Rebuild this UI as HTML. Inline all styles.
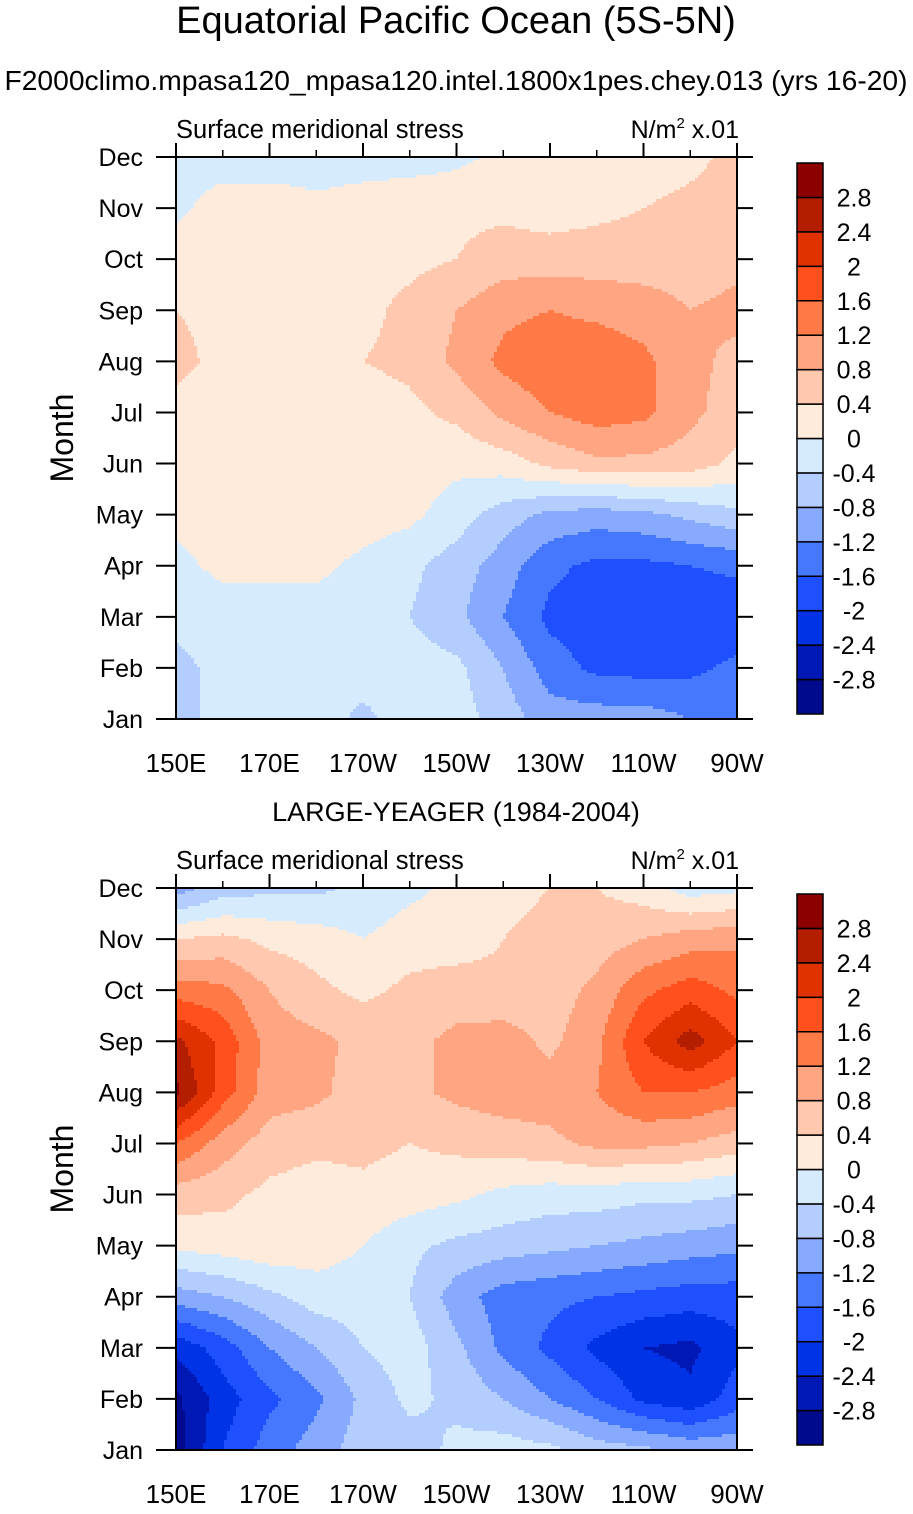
<!DOCTYPE html>
<html><head><meta charset="utf-8">
<style>
body{margin:0;background:#fff;width:913px;height:1509px;overflow:hidden;font-family:"Liberation Sans",sans-serif;}
svg text{font-family:"Liberation Sans",sans-serif;fill:#000;}
</style></head>
<body>
<svg id="fig" width="913" height="1509" xmlns="http://www.w3.org/2000/svg">
<text x="456" y="33" font-size="38" text-anchor="middle">Equatorial Pacific Ocean (5S-5N)</text>
<text x="456" y="90" font-size="28" text-anchor="middle" textLength="903" lengthAdjust="spacingAndGlyphs">F2000climo.mpasa120_mpasa120.intel.1800x1pes.chey.013 (yrs 16-20)</text>
<text x="456" y="821" font-size="27" text-anchor="middle">LARGE-YEAGER (1984-2004)</text>
<g id="p0"></g>
<g id="p1"></g>
</svg>
<script>
const months=["Jan","Feb","Mar","Apr","May","Jun","Jul","Aug","Sep","Oct","Nov","Dec"];
const lons=[150,160,170,180,190,200,210,220,230,240,250,260,270];
const lonTicks=[150,170,190,210,230,250,270];
const lonTickLabels=["150E","170E","170W","150W","130W","110W","90W"];
const levels=[-2.8,-2.4,-2,-1.6,-1.2,-0.8,-0.4,0,0.4,0.8,1.2,1.6,2,2.4,2.8];
const levelLabels=["-2.8","-2.4","-2","-1.6","-1.2","-0.8","-0.4","0","0.4","0.8","1.2","1.6","2","2.4","2.8"];
const colors=["#000A8C","#0019B4","#0032E6","#1E50FF","#4678FF","#87AAFF","#B4CDFF","#D7EBFF","#FFEBDC","#FFC8AF","#FFA582","#FF7A46","#FF501E","#E03200","#B31E00","#8C0000"];
const modelData=[
[-0.6,-0.2,-0.2,-0.2,-0.5,-0.2,-0.2,-0.6,-1.0,-1.0,-1.0,-1.2,-1.2],
[-0.5,-0.3,-0.2,-0.2,-0.2,-0.2,-0.3,-0.8,-1.4,-1.7,-1.75,-1.7,-1.5],
[-0.3,-0.2,-0.2,-0.2,-0.2,-0.4,-0.7,-1.2,-1.7,-1.85,-1.95,-1.95,-1.9],
[-0.1,0.1,0.1,0.1,-0.1,-0.3,-0.6,-1.0,-1.5,-1.7,-1.7,-1.6,-1.5],
[0.1,0.2,0.2,0.2,0.2,0.1,-0.2,-0.6,-0.9,-1.0,-0.9,-0.7,-0.5],
[0.1,0.2,0.2,0.2,0.2,0.2,0.1,0.2,0.5,0.7,0.7,0.6,0.3],
[0.3,0.2,0.2,0.2,0.2,0.3,0.5,0.9,1.2,1.4,1.3,0.9,0.6],
[0.5,0.3,0.3,0.3,0.4,0.5,0.9,1.3,1.5,1.5,1.3,0.9,0.7],
[0.4,0.3,0.3,0.3,0.3,0.5,0.8,1.1,1.2,1.1,1.0,0.8,0.9],
[0.2,0.3,0.3,0.3,0.3,0.3,0.4,0.6,0.6,0.6,0.6,0.6,0.7],
[-0.1,0.2,0.2,0.1,0.2,0.3,0.3,0.3,0.2,0.3,0.4,0.5,0.6],
[-0.2,-0.2,-0.2,-0.2,-0.2,-0.2,-0.1,0.1,0.1,0.2,0.2,0.3,0.5]];
const obsData=[
[-3.0,-2.0,-1.4,-1.0,-0.6,-0.6,-0.3,-0.2,-0.3,-0.6,-0.7,-0.9,-0.9],
[-2.9,-2.2,-1.7,-1.3,-0.7,-0.3,-0.5,-0.8,-1.2,-1.6,-2.1,-2.3,-1.8],
[-2.3,-1.8,-1.2,-0.8,-0.4,-0.2,-0.7,-1.3,-1.7,-2.1,-2.4,-2.5,-2.1],
[-1.0,-0.8,-0.5,-0.2,-0.2,-0.4,-1.0,-1.4,-1.5,-1.6,-1.7,-1.8,-1.8],
[0.1,0.2,0.3,0.2,0.0,-0.3,-0.5,-0.6,-0.7,-0.8,-0.9,-1.0,-1.1],
[0.6,0.5,0.3,0.2,0.3,0.2,0.1,-0.1,-0.2,-0.2,-0.3,-0.3,-0.4],
[1.6,1.0,0.6,0.5,0.5,0.4,0.5,0.6,0.7,0.9,0.9,0.8,0.6],
[2.9,1.8,1.0,0.9,0.6,0.7,0.9,1.0,1.0,1.2,1.6,1.6,1.4],
[2.5,1.9,1.0,0.9,0.7,0.7,0.9,1.0,0.7,1.1,2.0,2.6,2.0],
[1.4,1.3,0.8,0.5,0.3,0.5,0.6,0.5,0.6,0.9,1.5,1.8,1.5],
[0.4,0.5,0.3,0.2,0.0,0.2,0.2,0.4,0.5,0.6,0.8,1.0,1.1],
[-1.0,-0.6,-0.5,-0.5,-0.3,-0.1,0.1,0.3,0.4,0.4,0.2,-0.2,-0.1]];

const NS="http://www.w3.org/2000/svg";
function mk(tag,attrs,parent){const e=document.createElementNS(NS,tag);for(const k in attrs)e.setAttribute(k,attrs[k]);parent.appendChild(e);return e;}
function colorFor(v){let i=0;while(i<levels.length&&v>=levels[i])i++;return colors[i];}

function drawPanel(g,data,top){
  const L=176,R=737,T=top,B=top+562;
  const xs=lon=>L+(lon-150)/(270-150)*(R-L);
  const ys=m=>B-m/11*(B-T);
  const step=3;
  const fld=mk('g',{},g);
  
  
  for(let py=T;py<B;py+=step){
    const m=Math.min(11,Math.max(0,(B-(py+step/2))/(B-T)*11));
    const j=Math.min(10,Math.floor(m)),fy=m-j;
    let runStart=L,runCol=null;
    for(let px=L;px<=R;px+=step){
      let col=null;
      if(px<R){
        const lon=150+(px+step/2-L)/(R-L)*120;
        const u=Math.min(12,Math.max(0,(lon-150)/10));
        const i=Math.min(11,Math.floor(u)),fx=u-i;
        const v=(data[j][i]*(1-fx)+data[j][i+1]*fx)*(1-fy)+(data[j+1][i]*(1-fx)+data[j+1][i+1]*fx)*fy;
        col=colorFor(v);
      }
      if(col!==runCol){
        if(runCol){const r=mk('rect',{x:runStart,y:py,width:Math.min(px,R)-runStart,height:Math.min(step,B-py)+0.5,fill:runCol},fld);
          }
        runStart=px;runCol=col;
      }
    }
  }
  const fr=mk('rect',{x:L,y:T,width:R-L,height:B-T,fill:'none',stroke:'#000','stroke-width':2},g);
  
  months.forEach((mn,k)=>{
    const y=ys(k);
    mk('line',{x1:L-20,y1:y,x2:L,y2:y,stroke:'#000','stroke-width':2},g);
    mk('line',{x1:R,y1:y,x2:R+16,y2:y,stroke:'#000','stroke-width':2},g);
    const t=mk('text',{x:143,y:y+9,'font-size':25,'text-anchor':'end'},g);t.textContent=mn;
    
  });
  lonTicks.forEach((lon,k)=>{
    const x=xs(lon);
    mk('line',{x1:x,y1:T-14,x2:x,y2:T,stroke:'#000','stroke-width':2},g);
    const t=mk('text',{x:x,y:B+53,'font-size':26,'text-anchor':'middle'},g);t.textContent=lonTickLabels[k];
    
  });
  for(let k=0;k<13;k++){const x=xs(150+k*10);mk('line',{x1:x,y1:T-7,x2:x,y2:T,stroke:'#000','stroke-width':1.5},g);}
  const yt=mk('text',{x:0,y:0,'font-size':32,'text-anchor':'middle',transform:`translate(73,${(T+B)/2}) rotate(-90)`},g);yt.textContent='Month';
  
  const lt=mk('text',{x:176,y:T-19,'font-size':25.5},g);lt.textContent='Surface meridional stress';
  
  const ut=mk('text',{x:739,y:T-19,'font-size':25,'text-anchor':'end'},g);
  ut.innerHTML='N/m<tspan dy="-10" font-size="15">2</tspan><tspan dy="10"> x.01</tspan>';
  
  const cbT=T+6,cbB=T+557,cbL=797,cbW=26,n=colors.length,h=(cbB-cbT)/n;
  const cb=mk('g',{},g);
  colors.forEach((c,k)=>{
    const r=mk('rect',{x:cbL,y:cbB-(k+1)*h,width:cbW,height:h,fill:c,stroke:'#000','stroke-width':1.5},cb);
    
  });
  levelLabels.forEach((lb,k)=>{
    const y=cbB-(k+1)*h;
    const t=mk('text',{x:854,y:y+9,'font-size':25,'text-anchor':'middle'},cb);t.textContent=lb;
    
  });
}
drawPanel(document.getElementById('p0'),modelData,157);
drawPanel(document.getElementById('p1'),obsData,888);
</script>
</body></html>
